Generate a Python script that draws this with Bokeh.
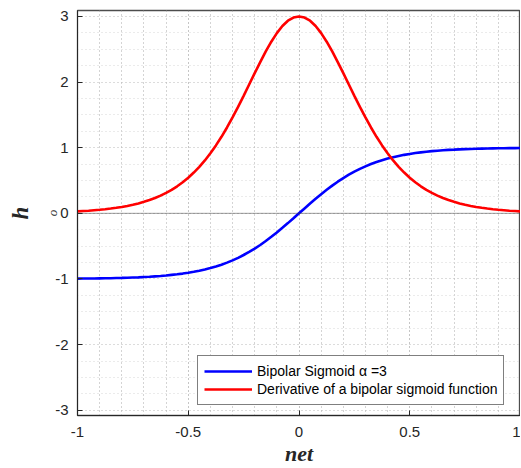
from bokeh.plotting import figure
from bokeh.models import FixedTicker, LinearAxis, Span, Range1d
from bokeh.embed import file_html
from bokeh.resources import INLINE

net = [-1.0, -0.975, -0.95, -0.925, -0.9, -0.875, -0.85, -0.825, -0.8, -0.775,
       -0.75, -0.725, -0.7, -0.675, -0.65, -0.625, -0.6, -0.575, -0.55, -0.525,
       -0.5, -0.475, -0.45, -0.425, -0.4, -0.375, -0.35, -0.325, -0.3, -0.275,
       -0.25, -0.225, -0.2, -0.175, -0.15, -0.125, -0.1, -0.075, -0.05, -0.025,
       0.0, 0.025, 0.05, 0.075, 0.1, 0.125, 0.15, 0.175, 0.2, 0.225,
       0.25, 0.275, 0.3, 0.325, 0.35, 0.375, 0.4, 0.425, 0.45, 0.475,
       0.5, 0.525, 0.55, 0.575, 0.6, 0.625, 0.65, 0.675, 0.7, 0.725,
       0.75, 0.775, 0.8, 0.825, 0.85, 0.875, 0.9, 0.925, 0.95, 0.975, 1.0]

sigmoid = [-0.995, -0.994, -0.993, -0.992, -0.991, -0.990, -0.988, -0.986, -0.984, -0.981,
           -0.978, -0.975, -0.970, -0.966, -0.960, -0.954, -0.947, -0.938, -0.929, -0.918,
           -0.905, -0.891, -0.874, -0.855, -0.834, -0.809, -0.782, -0.751, -0.716, -0.678,
           -0.635, -0.588, -0.537, -0.482, -0.422, -0.358, -0.291, -0.221, -0.149, -0.075,
           0.000, 0.075, 0.149, 0.221, 0.291, 0.358, 0.422, 0.482, 0.537, 0.588,
           0.635, 0.678, 0.716, 0.751, 0.782, 0.809, 0.834, 0.855, 0.874, 0.891,
           0.905, 0.918, 0.929, 0.938, 0.947, 0.954, 0.960, 0.966, 0.970, 0.975,
           0.978, 0.981, 0.984, 0.986, 0.988, 0.990, 0.991, 0.992, 0.993, 0.994, 0.995]

derivative = [0.030, 0.035, 0.040, 0.047, 0.054, 0.063, 0.073, 0.084, 0.097, 0.113,
              0.130, 0.151, 0.175, 0.202, 0.233, 0.270, 0.311, 0.358, 0.412, 0.473,
              0.542, 0.621, 0.708, 0.806, 0.915, 1.035, 1.166, 1.308, 1.461, 1.621,
              1.790, 1.962, 2.135, 2.304, 2.466, 2.615, 2.745, 2.853, 2.934, 2.983,
              3.000, 2.983, 2.934, 2.853, 2.745, 2.615, 2.466, 2.304, 2.135, 1.962,
              1.790, 1.621, 1.461, 1.308, 1.166, 1.035, 0.915, 0.806, 0.708, 0.621,
              0.542, 0.473, 0.412, 0.358, 0.311, 0.270, 0.233, 0.202, 0.175, 0.151,
              0.130, 0.113, 0.097, 0.084, 0.073, 0.063, 0.054, 0.047, 0.040, 0.035, 0.030]

x_ticks = [-1, -0.5, 0, 0.5, 1]
x_tick_labels = ["-1", "-0.5", "0", "0.5", "1"]
x_minor = [-0.9, -0.8, -0.7, -0.6, -0.4, -0.3, -0.2, -0.1, 0.1, 0.2, 0.3, 0.4, 0.6, 0.7, 0.8, 0.9]
y_ticks = [-3, -2, -1, 0, 1, 2, 3]
y_tick_labels = ["-3", "-2", "-1", "0", "1", "2", "3"]
y_minor = [-2.75, -2.5, -2.25, -1.75, -1.5, -1.25, -0.75, -0.5, -0.25,
           0.25, 0.5, 0.75, 1.25, 1.5, 1.75, 2.25, 2.5, 2.75]

label_sig = "Bipolar Sigmoid \u03b1 =3"
label_der = "Derivative of a bipolar sigmoid function"

TXT = "#262626"
TICK_FONT = "Liberation Sans"
SERIF = "Liberation Serif"

p = figure(width=520, height=468, output_backend="svg", toolbar_location=None,
           x_range=Range1d(-1, 1), y_range=Range1d(-3.08, 3.09),
           min_border_left=77, min_border_right=0, min_border_top=10, min_border_bottom=40)
p.outline_line_color = "#4d4d4d"
p.outline_line_width = 1.3
p.background_fill_color = "white"
p.border_fill_color = "white"

xt = FixedTicker(ticks=x_ticks, minor_ticks=x_minor)
yt = FixedTicker(ticks=y_ticks, minor_ticks=y_minor)

for ax in p.xaxis:
    ax.ticker = xt
    ax.major_label_overrides = dict(zip(x_ticks, x_tick_labels))
for ax in p.yaxis:
    ax.ticker = yt
    ax.major_label_overrides = dict(zip(y_ticks, y_tick_labels))

# grids (dotted, MATLAB-like)
p.xgrid.grid_line_color = "#8c8c8c"
p.xgrid.grid_line_dash = "1 3"
p.xgrid.minor_grid_line_color = "#a8a8a8"
p.xgrid.minor_grid_line_dash = "1 3"
p.ygrid.grid_line_color = "#b8b8b8"
p.ygrid.grid_line_dash = "1 3"
p.ygrid.minor_grid_line_color = "#d6d6d6"
p.ygrid.minor_grid_line_dash = "1 3"

# zero reference line
p.add_layout(Span(location=0, dimension="width", line_color="#3a3a3a",
                  line_dash="1 1", line_width=1))

def style_axis(ax):
    ax.major_tick_in = 5
    ax.major_tick_out = 0
    ax.minor_tick_line_color = None
    ax.axis_line_color = TXT
    ax.major_tick_line_color = TXT
    ax.major_label_text_font = TICK_FONT
    ax.major_label_text_font_size = "15px"
    ax.major_label_text_color = TXT

xa = p.xaxis[0]
style_axis(xa)
xa.major_label_standoff = 7
xa.axis_label = "net"
xa.axis_label_text_font = SERIF
xa.axis_label_text_font_style = "bold italic"
xa.axis_label_text_font_size = "22px"
xa.axis_label_text_color = TXT
xa.axis_label_standoff = 1

ya = p.yaxis[0]
style_axis(ya)
ya.major_label_standoff = 5
ya.axis_label = "o"
ya.axis_label_text_font = SERIF
ya.axis_label_text_font_style = "italic"
ya.axis_label_text_font_size = "13px"
ya.axis_label_text_color = TXT
ya.axis_label_standoff = -8

# outer left axis carrying only the "h" label (no ticks, no tick labels)
h_axis = LinearAxis(ticker=FixedTicker(ticks=[]), axis_label="h")
h_axis.axis_line_color = None
h_axis.major_tick_line_color = None
h_axis.minor_tick_line_color = None
h_axis.axis_label_text_font = SERIF
h_axis.axis_label_text_font_style = "bold italic"
h_axis.axis_label_text_font_size = "23px"
h_axis.axis_label_text_color = TXT
h_axis.axis_label_standoff = 10
h_axis.major_label_standoff = 0
p.add_layout(h_axis, "left")

p.line(net, sigmoid, line_color="#0000ff", line_width=2.6, legend_label=label_sig)
p.line(net, derivative, line_color="#ff0000", line_width=2.6, legend_label=label_der)

lg = p.legend[0]
lg.location = (120, 10)
lg.label_text_font = TICK_FONT
lg.label_text_font_size = "14px"
lg.label_text_color = "#000000"
lg.border_line_color = "#000000"
lg.border_line_width = 1
lg.background_fill_color = "white"
lg.background_fill_alpha = 1
lg.padding = 6
lg.margin = 0
lg.spacing = 0
lg.glyph_width = 48
lg.glyph_height = 18
lg.label_height = 18
lg.label_standoff = 5

open("out.html", "w").write(file_html(p, INLINE))
